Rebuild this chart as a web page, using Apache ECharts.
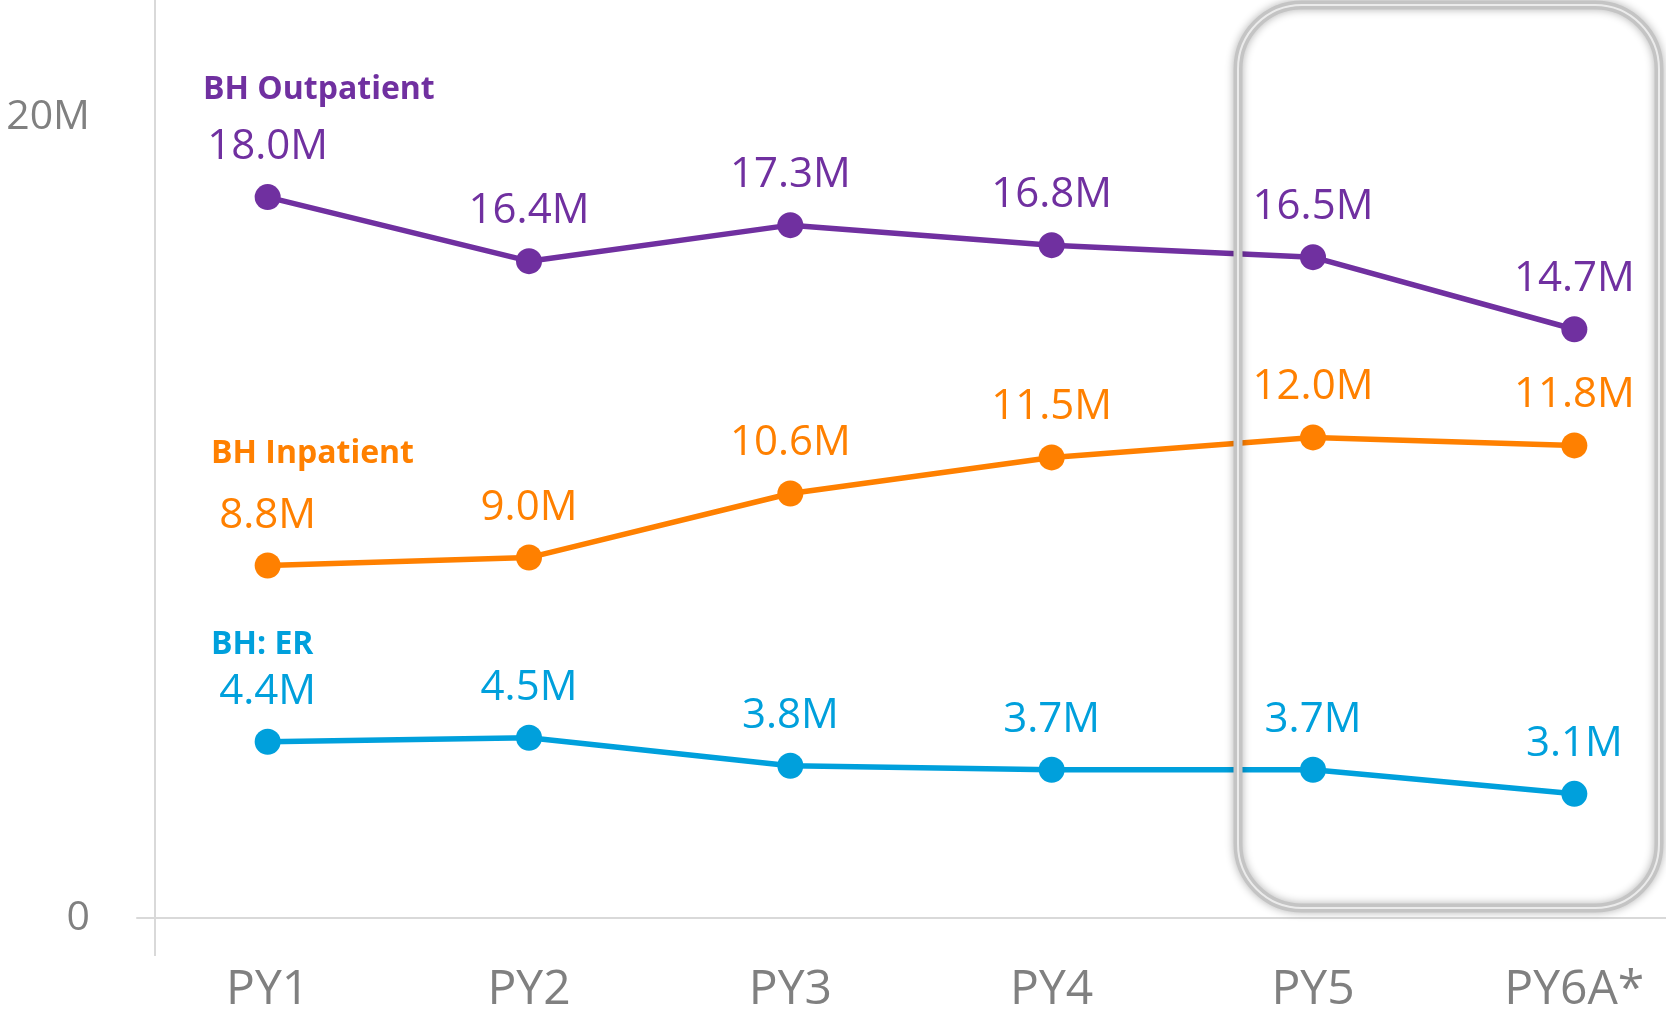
<!DOCTYPE html>
<html>
<head>
<meta charset="utf-8">
<title>BH spend by program year</title>
<script src="https://cdn.jsdelivr.net/npm/echarts@6/dist/echarts.min.js"></script>
<style>
    html, body { margin: 0; padding: 0; background: #fff; }
    #chart { width: 1666px; height: 1015px; }
</style>
</head>
<body>
<div id="chart"></div>
<script>
    // values in millions
    var categories = ['PY1', 'PY2', 'PY3', 'PY4', 'PY5', 'PY6A*'];
    var seriesNames = ['BH Outpatient', 'BH Inpatient', 'BH: ER'];
    var outpatient = [18.0, 16.4, 17.3, 16.8, 16.5, 14.7];
    var inpatient = [8.8, 9.0, 10.6, 11.5, 12.0, 11.8];
    var er = [4.4, 4.5, 3.8, 3.7, 3.7, 3.1];
    var yTicks = [0, 20];

    var colors = ['#7030A0', '#FF8000', '#00A0DC'];
    var font = '"Open Sans", "DejaVu Sans", sans-serif';

    function makeSeries(name, data, color) {
        return {
            name: name,
            type: 'line',
            data: data,
            symbol: 'circle',
            symbolSize: 26,
            lineStyle: { color: color, width: 5.5 },
            itemStyle: { color: color },
            label: {
                show: true,
                position: 'top',
                distance: 16,
                color: color,
                fontSize: 42,
                fontFamily: font,
                formatter: function (p) { return p.value.toFixed(1) + 'M'; }
            },
            z: 3
        };
    }

    var chart = echarts.init(document.getElementById('chart'));
    chart.setOption({
        animation: false,
        title: [
            { text: seriesNames[0], left: 203, top: 74 },
            { text: seriesNames[1], left: 211, top: 438 },
            { text: seriesNames[2], left: 211, top: 629 }
        ].map(function (t, i) {
            t.padding = 0;
            t.textStyle = { color: colors[i], fontSize: 32, fontWeight: 'bold', fontFamily: font };
            return t;
        }),
        // plot runs past the right edge of the page, like the original
        grid: { left: 137, width: 1568, top: 117, bottom: 97, outerBoundsMode: 'none', containLabel: false },
        xAxis: {
            type: 'category',
            data: categories,
            boundaryGap: true,
            axisLine: { show: true, lineStyle: { color: '#d9d9d9', width: 2 } },
            axisTick: { show: false },
            axisLabel: { color: '#808080', fontSize: 48, fontFamily: font, margin: 48 }
        },
        yAxis: {
            type: 'value',
            min: yTicks[0],
            max: yTicks[1],
            interval: yTicks[1] - yTicks[0],
            axisLine: { show: false },
            axisTick: { show: false },
            splitLine: { show: false },
            axisLabel: {
                color: '#808080', fontSize: 41, fontFamily: font, margin: 47,
                formatter: function (v) { return v === 0 ? '0' : v + 'M'; }
            }
        },
        graphic: [
            {
                type: 'line',
                shape: { x1: 155, y1: 0, x2: 155, y2: 956 },
                style: { stroke: '#d9d9d9', lineWidth: 2 },
                z: 1
            },
            {
                type: 'rect',
                shape: { x: 1238, y: 5, width: 421, height: 903, r: 64 },
                style: {
                    fill: 'none', stroke: '#c4c4c4', lineWidth: 9,
                    shadowBlur: 8, shadowColor: 'rgba(0,0,0,0.3)'
                },
                z: 10
            },
            {
                type: 'rect',
                shape: { x: 1238, y: 5, width: 421, height: 903, r: 64 },
                style: { fill: 'none', stroke: '#ebebeb', lineWidth: 2 },
                z: 11
            }
        ],
        series: [
            makeSeries(seriesNames[0], outpatient, colors[0]),
            makeSeries(seriesNames[1], inpatient, colors[1]),
            makeSeries(seriesNames[2], er, colors[2])
        ]
    });
</script>
</body>
</html>
